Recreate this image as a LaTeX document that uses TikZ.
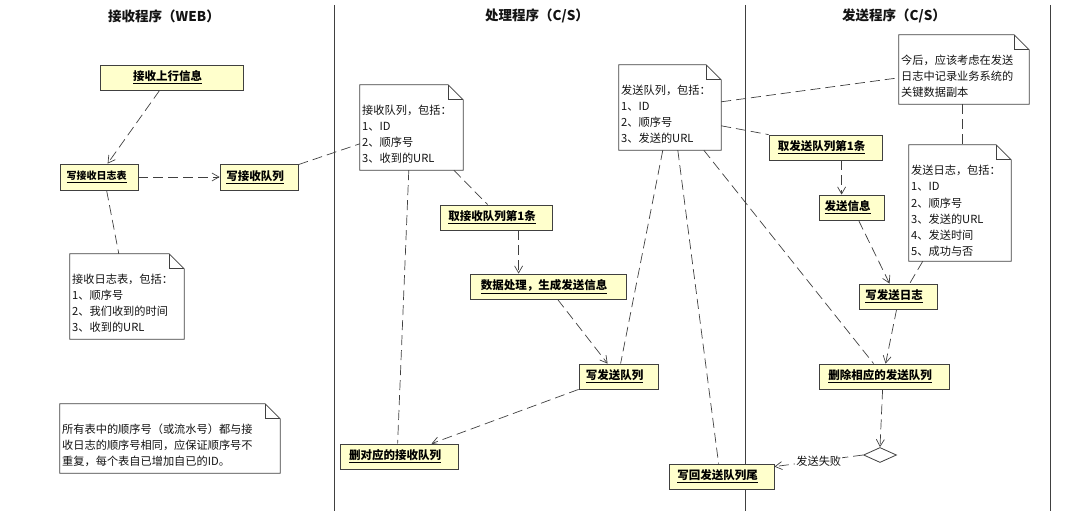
\documentclass[tikz,border=0pt]{standalone}
\usepackage{fontspec}
\setmainfont{Noto Sans CJK SC}
\usetikzlibrary{arrows.meta,calc,shapes.geometric}
\definecolor{linegray}{RGB}{64,64,64}
\definecolor{actfill}{RGB}{255,255,204}
\definecolor{txt}{RGB}{20,20,20}
\newcommand\drawnote[1]{%
  \draw[noteline] (#1.north west) -- ($(#1.north east)+(-15,0)$) -- ($(#1.north east)+(0,15)$) -- (#1.south east) -- (#1.south west) -- cycle;
  \draw[noteline] ($(#1.north east)+(-15,0)$) |- ($(#1.north east)+(0,15)$);
}
\newcommand\actlabel[1]{\underline{\textbf{#1}}\kern8pt}
\begin{document}
\begin{tikzpicture}[x=1pt,y=-1pt,
  lane/.style={draw=linegray, line width=0.8pt},
  lanetitle/.style={font=\fontsize{13.5}{15}\selectfont\bfseries, text=txt, inner sep=0},
  actbox/.style={draw=linegray, fill=actfill, line width=0.8pt, inner sep=0, font=\fontsize{11.5}{13}\selectfont, text=black},
  notebg/.style={fill=white, inner sep=0, draw=none},
  noteline/.style={draw=linegray, line width=0.8pt},
  notetext/.style={anchor=north west, inner sep=0, align=left, font=\fontsize{11.2}{16.2}\selectfont, text=txt},
  flow/.style={draw=linegray, line width=0.7pt, dash pattern=on 10pt off 5pt, -{Straight Barb[length=7pt,width=8pt]}},
  link/.style={draw=linegray, line width=0.7pt, dash pattern=on 10pt off 5pt},
  decision/.style={diamond, draw=linegray, fill=white, line width=0.8pt, minimum width=33pt, minimum height=15pt, inner sep=0},
  flowlabel/.style={fill=white, inner sep=1pt, font=\fontsize{11.2}{13}\selectfont, text=txt},
]
\useasboundingbox (0,0) rectangle (1071,511);

% swimlanes
\draw[lane] (334,5) -- (334,511);
\draw[lane] (745,5) -- (745,511);
\draw[lane] (1050,5) -- (1050,511);
\node[lanetitle] (t1) at (164,16) {接收程序（WEB）};
\node[lanetitle] (t2) at (537,16) {处理程序（C/S）};
\node[lanetitle] (t3) at (894,16) {发送程序（C/S）};

% activities
\node[actbox, minimum width=143pt, minimum height=25pt] (a1) at (171.5,77.5) {\actlabel{接收上行信息}};
\node[actbox, minimum width=78pt, minimum height=26pt, font=\fontsize{10}{12}\selectfont] (a2) at (99,177) {\underline{\textbf{写接收日志表}}\kern5pt};
\node[actbox, minimum width=78pt, minimum height=26pt] (a3) at (259,177) {\actlabel{写接收队列}};
\node[actbox, minimum width=112pt, minimum height=25pt] (a4) at (496,217.5) {\actlabel{取接收队列第1条}};
\node[actbox, minimum width=156pt, minimum height=25pt] (a5) at (548,286.5) {\actlabel{数据处理，生成发送信息}};
\node[actbox, minimum width=79pt, minimum height=25pt] (a6) at (618.5,376.5) {\actlabel{写发送队列}};
\node[actbox, minimum width=118pt, minimum height=25pt] (a7) at (399,456.5) {\actlabel{删对应的接收队列}};
\node[actbox, minimum width=105pt, minimum height=25pt] (a8) at (721.5,476.5) {\actlabel{写回发送队列尾}};
\node[actbox, minimum width=113pt, minimum height=25pt] (a9) at (825.5,147.5) {\actlabel{取发送队列第1条}};
\node[actbox, minimum width=65pt, minimum height=25pt] (a10) at (851.5,207.5) {\actlabel{发送信息}};
\node[actbox, minimum width=78pt, minimum height=25pt] (a11) at (898,296.5) {\actlabel{写发送日志}};
\node[actbox, minimum width=130pt, minimum height=25pt] (a12) at (884,376.5) {\actlabel{删除相应的发送队列}};
\node[decision] (d) at (880,455) {};

% notes
\node[notebg, minimum width=114pt, minimum height=85pt] (n1) at (127,296.5) {};
\drawnote{n1}
\node[notetext] (n1t) at (72,273.5) {接收日志表，包括：\\1、顺序号\\2、我们收到的时间\\3、收到的URL};
\node[notebg, minimum width=220pt, minimum height=69pt] (n2) at (170,438.5) {};
\drawnote{n2}
\node[notetext] (n2t) at (62,423.5) {所有表中的顺序号（或流水号）都与接\\收日志的顺序号相同，应保证顺序号不\\重复，每个表自已增加自已的ID。};
\node[notebg, minimum width=103pt, minimum height=85pt] (n3) at (411.5,127.5) {};
\drawnote{n3}
\node[notetext] (n3t) at (362,104.5) {接收队列，包括：\\1、ID\\2、顺序号\\3、收到的URL};
\node[notebg, minimum width=102pt, minimum height=85pt] (n4) at (670,107.5) {};
\drawnote{n4}
\node[notetext] (n4t) at (621,84.5) {发送队列，包括：\\1、ID\\2、顺序号\\3、发送的URL};
\node[notebg, minimum width=130pt, minimum height=69pt] (n5) at (964,69.5) {};
\drawnote{n5}
\node[notetext] (n5t) at (901,54.5) {今后，应该考虑在发送\\日志中记录业务系统的\\关键数据副本};
\node[notebg, minimum width=102pt, minimum height=116pt] (n6) at (960,203) {};
\drawnote{n6}
\node[notetext] (n6t) at (911,165) {发送日志，包括：\\1、ID\\2、顺序号\\3、发送的URL\\4、发送时间\\5、成功与否};

% control flows
\draw[flow] ($(a1.south west)+(60,0)$) -- ($(a2.north west)+(48,0)$);
\draw[flow] (a2.east) -- (a3.west);
\draw[flow] ($(a4.south west)+(79,0)$) -- ($(a5.north west)+(49,0)$);
\draw[flow] ($(a5.south west)+(88,0)$) -- ($(a6.north west)+(29,0)$);
\draw[flow] (a6.south west) -- ($(a7.north west)+(92,0)$);
\draw[flow] ($(a9.south west)+(73,0)$) -- ($(a10.north west)+(23,0)$);
\draw[flow] ($(a10.south west)+(40,0)$) -- ($(a11.north west)+(31,0)$);
\draw[flow] ($(a11.south west)+(38,0)$) -- ($(a12.north west)+(67,0)$);
\draw[flow] ($(a12.south west)+(64,0)$) -- (d.north);
\draw[flow] (d.west) -- node[flowlabel] (fl) {发送失败} ($(a8.north east)+(0,3)$);

% note links
\draw[link] ($(a2.south west)+(47,0)$) -- ($(n1.north west)+(49,0)$);
\draw[link] ($(a3.north east)+(0,1)$) -- ($(n3.north west)+(0,59)$);
\draw[link] ($(n3.south west)+(49,0)$) -- ($(a7.north west)+(58,0)$);
\draw[link] ($(n3.south west)+(94,0)$) -- ($(a4.north west)+(48,0)$);
\draw[link] ($(n4.south west)+(44,0)$) -- ($(a6.north west)+(42,0)$);
\draw[link] ($(n4.south west)+(59,0)$) -- ($(a8.north west)+(50,0)$);
\draw[link] ($(n4.south west)+(85,0)$) -- ($(a12.north west)+(55,0)$);
\draw[link] ($(n4.north east)+(0,61)$) -- (a9.north west);
\draw[link] ($(n4.north east)+(0,37)$) -- ($(n5.north west)+(0,43)$);
\draw[link] ($(n5.south west)+(64,0)$) -- ($(n6.north west)+(54,0)$);
\draw[link] ($(n6.south west)+(14,0)$) -- ($(a11.north west)+(51,0)$);
\end{tikzpicture}
\end{document}
